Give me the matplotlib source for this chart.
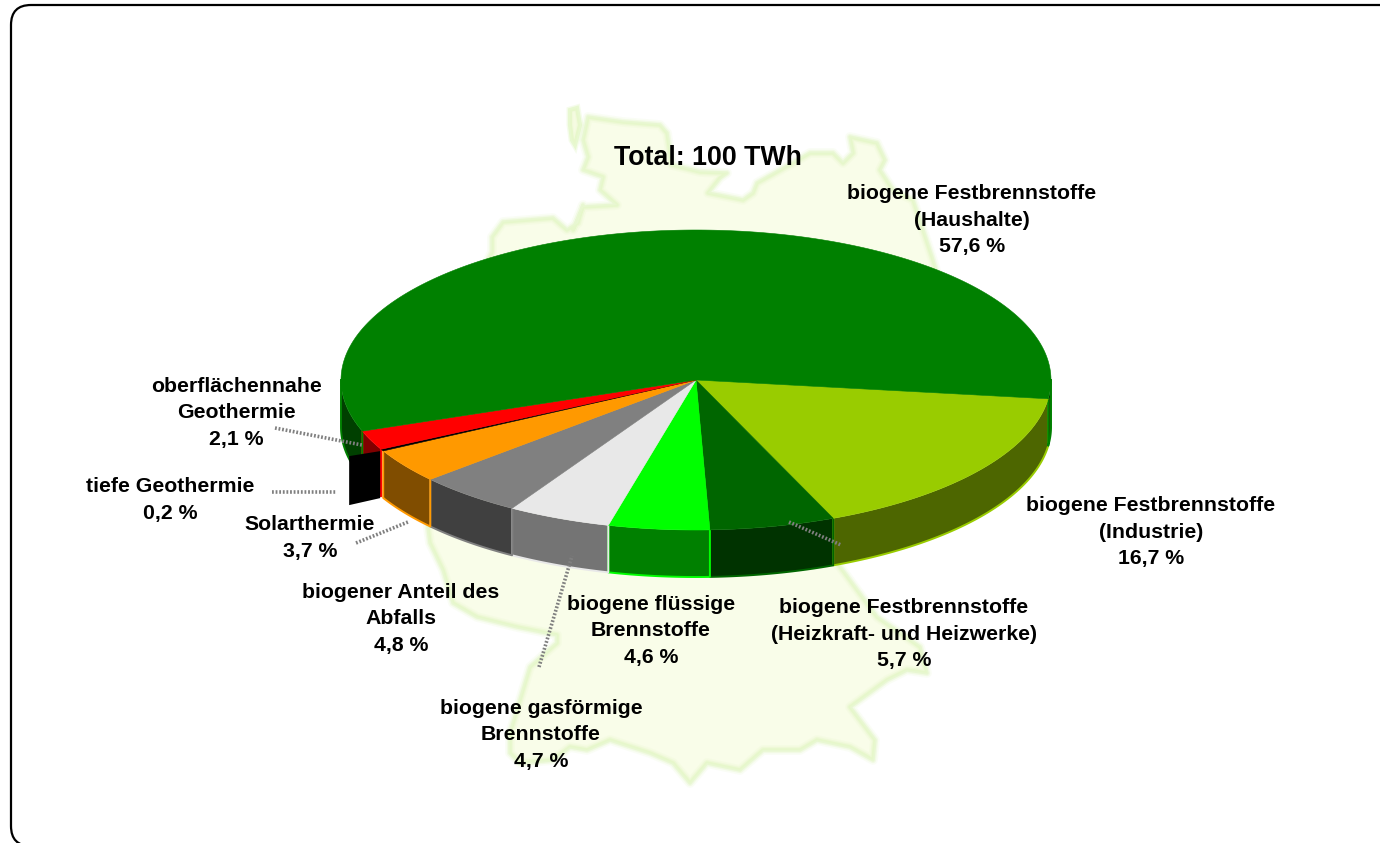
import numpy as np
import matplotlib
matplotlib.use("Agg")
import matplotlib.pyplot as plt
from matplotlib.patches import Polygon, FancyBboxPatch

# slices in drawing order, clockwise from the right hand edge
labels = ["biogene Festbrennstoffe\n(Industrie)\n16,7 %",
          "biogene Festbrennstoffe\n(Heizkraft- und Heizwerke)\n5,7 %",
          "biogene flüssige\nBrennstoffe\n4,6 %",
          "biogene gasförmige\nBrennstoffe\n4,7 %",
          "biogener Anteil des\nAbfalls\n4,8 %",
          "Solarthermie\n3,7 %",
          "tiefe Geothermie\n0,2 %",
          "oberflächennahe\nGeothermie\n2,1 %",
          "biogene Festbrennstoffe\n(Haushalte)\n57,6 %"]
values = [16.7, 5.7, 4.6, 4.7, 4.8, 3.7, 0.2, 2.1, 57.6]
top_colors = ["#99CC00", "#006600", "#00FF00", "#E8E8E8", "#808080", "#FF9900", "#000000", "#FF0000", "#008000"]
side_colors = ["#4D6600", "#003300", "#008000", "#747474", "#404040", "#804D00", "#000000", "#800000", "#004000"]
label_pos = [(1151, 532), (904, 634), (651, 631), (541, 735), (401, 619), (310, 538), (170, 500), (236, 413), (972, 220)]

# leader lines from label to slice
leaders = [((275, 428), (362, 445)), ((272, 492), (337, 492)), ((356, 543), (408, 522)),
           ((539, 667), (572, 556)), ((789, 522), (841, 545))]

# germany outline behind the pie
map_x = [588, 623, 660, 667, 672, 700, 727, 720, 708, 743, 753, 757, 793, 810, 833, 843, 853, 850, 877, 885, 880, 893,
         913, 923, 932, 945, 900, 835, 877, 920, 927, 907, 887, 850, 875, 873, 850, 817, 800, 763, 740, 707, 690,
         673, 650, 610, 587, 570, 553, 520, 510, 510, 520, 530, 557, 557, 517, 477, 453, 443, 430, 428, 420, 492,
         492, 503, 553, 567, 578, 583, 573, 583, 617, 600, 603, 583, 588, 583]
map_y = [117, 122, 125, 133, 165, 172, 173, 178, 193, 200, 193, 183, 163, 153, 153, 163, 153, 137, 143, 160, 170, 190,
         200, 230, 257, 300, 500, 560, 617, 647, 673, 670, 680, 707, 740, 760, 747, 740, 750, 750, 770, 763, 783,
         763, 753, 740, 750, 747, 760, 763, 753, 733, 700, 667, 643, 635, 627, 617, 603, 570, 543, 528, 400, 252,
         237, 222, 218, 230, 223, 205, 230, 207, 205, 190, 177, 170, 157, 140]
sylt_x = [570, 577, 580, 575, 572, 570]
sylt_y = [110, 108, 125, 145, 140, 125]

cx, cy = 696, 380
rx, ry = 355, 150
depth = 47
start = 7.2


def rim(t):
    t = np.radians(t)
    return cx + rx * np.cos(t), cy + ry * np.sin(t)


plt.rcParams["font.family"] = ["Liberation Sans", "DejaVu Sans"]

fig = plt.figure(figsize=(13.8, 8.43), dpi=100)
ax = fig.add_axes([0, 0, 1, 1])
ax.set_xlim(0, 1380)
ax.set_ylim(843, 0)
ax.axis("off")

# frame runs off the right and bottom of the picture
frame = FancyBboxPatch((11, 5), 1420, 841, boxstyle="round,pad=0,rounding_size=20",
                       fc="white", ec="black", lw=1.6, zorder=0.5)
ax.add_patch(frame)

# map, soft edge from a few wide lines
outline = np.column_stack([map_x, map_y])
ax.add_patch(Polygon(outline, closed=True, fc="#F9FDE9", ec="none", zorder=1))
for lw, a in [(7, 0.15), (4.5, 0.3), (2.5, 0.5)]:
    ax.add_patch(Polygon(outline, closed=True, fc="none", ec="#E0F6C0", lw=lw, alpha=a, joinstyle="round", zorder=1))
for lw, a in [(5, 0.3), (3, 0.6)]:
    ax.add_patch(Polygon(np.column_stack([sylt_x, sylt_y]), closed=True, fc="#F3FBD8", ec="#E0F6C0", lw=lw, alpha=a, zorder=1))

# angles of the slices
angles = np.array(values) / sum(values) * 360
starts = start + np.concatenate([[0], np.cumsum(angles)[:-1]])
ends = starts + angles

# sides of the pie, only the front half shows
for i in range(len(values)):
    if labels[i].startswith("tiefe"):
        continue
    for lo, hi in [(0, 180), (360, 540)]:
        a = max(starts[i], lo)
        b = min(ends[i], hi)
        if b <= a:
            continue
        ts = np.linspace(a, b, 60)
        xs, ys = rim(ts)
        pts = np.concatenate([np.column_stack([xs, ys]), np.column_stack([xs, ys + depth])[::-1]])
        ax.add_patch(Polygon(pts, closed=True, fc=side_colors[i], ec="none", zorder=2))
        # outline in the slice colour
        edge = np.concatenate([[[xs[0], ys[0]]], np.column_stack([xs, ys + depth]), [[xs[-1], ys[-1]]]])
        edge_color = top_colors[i]
        ax.plot(edge[:, 0], edge[:, 1], color=edge_color, lw=1.4, zorder=2.2, solid_joinstyle="round")

# the black slice shows as a flat block sticking out to the left
k = labels.index("tiefe Geothermie\n0,2 %")
bx, by = rim((starts[k] + ends[k]) / 2)
block = [(bx - 2, by + 1), (bx - 33, by + 6), (bx - 33, by + 55), (bx - 2, by + 48)]
ax.add_patch(Polygon(block, closed=True, fc="black", ec="none", zorder=2.5))

# top of the pie
for i in range(len(values)):
    ts = np.linspace(starts[i], ends[i], 300)
    xs, ys = rim(ts)
    pts = np.concatenate([[[cx, cy]], np.column_stack([xs, ys])])
    ax.add_patch(Polygon(pts, closed=True, fc=top_colors[i], ec=top_colors[i], lw=0.4, zorder=3))

# leaders
for p, q in leaders:
    ax.plot([p[0], q[0]], [p[1], q[1]], color="#808080", lw=2.6, ls=(0, (0.5, 0.5)), zorder=4)

# text
for i in range(len(values)):
    ax.text(label_pos[i][0], label_pos[i][1], labels[i], ha="center", va="center", fontsize=15.3,
            fontweight="bold", linespacing=1.51, color="black", zorder=5)
ax.text(708, 158, "Total: 100 TWh", ha="center", va="center", fontsize=19.3, fontweight="bold", color="black", zorder=5)

fig.savefig("out.png", dpi=100)
